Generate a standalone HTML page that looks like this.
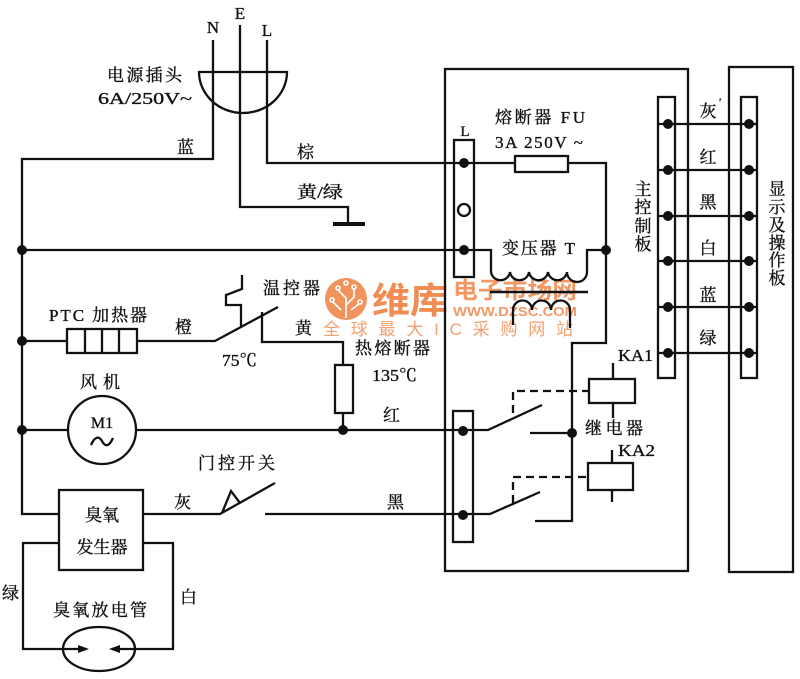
<!DOCTYPE html>
<html><head><meta charset="utf-8"><style>
html,body{margin:0;padding:0;background:#fff;}
svg{display:block;}
.t{font-family:"Liberation Serif","Noto Serif CJK SC",serif;font-size:17px;fill:#111;stroke:#111;stroke-width:0.35;}
.l{font-family:"Liberation Serif",serif;font-size:17px;fill:#111;}
</style></head><body>
<svg width="800" height="679" viewBox="0 0 800 679" xmlns="http://www.w3.org/2000/svg">
<rect width="800" height="679" fill="#fff"/>
<!-- watermark -->
<g>
<circle cx="346" cy="299" r="21" fill="#f0935c"/>
<g stroke="#fff" stroke-width="1.6" fill="none">
<path d="M346,318 V298 L338,290 M346,305 L354,297 V289 M341,310 L333,302 M351,310 L359,304"/>
<circle cx="338" cy="288" r="2"/><circle cx="354" cy="287" r="2"/><circle cx="332" cy="300" r="2"/><circle cx="360" cy="302" r="2"/><circle cx="346" cy="283" r="2"/>
</g>
<text x="372" y="313" textLength="76" lengthAdjust="spacingAndGlyphs" style="font-family:'Noto Sans CJK SC',sans-serif;font-weight:bold;font-size:36px;fill:#f08d55;">维库</text>
<text x="453" y="298" textLength="124" lengthAdjust="spacingAndGlyphs" style="font-family:'Noto Sans CJK SC',sans-serif;font-weight:bold;font-size:23px;fill:#f08d55;opacity:0.9">电子市场网</text>
<text x="453" y="316" textLength="124" lengthAdjust="spacingAndGlyphs" style="font-family:'Liberation Sans',sans-serif;font-weight:bold;font-size:13px;fill:#f08d55;opacity:0.9">WWW.DZSC.COM</text>
<text x="323" y="335" textLength="250" lengthAdjust="spacing" style="font-family:'Liberation Sans','Noto Sans CJK SC',sans-serif;font-size:17px;fill:#f2a070;">全球最大IC采购网站</text>
</g>

<g stroke="#111" stroke-width="2.3" fill="none" stroke-linejoin="miter">
<!-- plug -->
<path d="M199,72 H287 A44,41 0 0 1 199,72 Z"/>
<path d="M213,40 V159 H22 V514 H59"/>
<path d="M240,25 V207 H348 V224"/>
<path d="M333,224 H365" stroke-width="4"/>
<path d="M267,40 V163 H515"/>
<!-- bus -->
<path d="M22,250 H491 V272"/>
<!-- PTC -->
<path d="M22,341 H67"/>
<rect x="67" y="329" width="70" height="24"/>
<path d="M85,329 V353 M102,329 V353 M119,329 V353"/>
<path d="M137,341 H215 L278,307"/>
<path d="M242,275 V289 L226,295 V305 H241 V327"/>
<path d="M262,312 V342 H343 V365"/>
<rect x="335" y="365" width="18" height="48"/>
<path d="M343,413 V430"/>
<!-- fan -->
<path d="M22,430 H68"/>
<circle cx="102" cy="430" r="34"/>
<path d="M136,430 H463 H488 L542,405"/>
<path d="M91,445 C95,436 99,436 102,441 C105,447 109,447 113,438"/>
<!-- ozone -->
<rect x="59" y="490" width="84" height="80"/>
<path d="M143,514 H220 L275,483"/>
<path d="M222,513 L231,491 L240,503"/>
<path d="M265,514 H463 H490 L540,492"/>
<path d="M59,543 H23 V649 H63"/>
<path d="M143,543 H173 V649 H135"/>
<ellipse cx="99" cy="649" rx="36" ry="22"/>
<path d="M63,649 H86 M135,649 H112"/>
<!-- main box -->
<rect x="445" y="69" width="243" height="502"/>
<rect x="729" y="67" width="64" height="505"/>
<!-- L strip -->
<rect x="454" y="140" width="20" height="137"/>
<rect x="515" y="156" width="53" height="16"/>
<path d="M568,163 H606 V343 H572 V521 H535"/>
<path d="M491,272 A9.6,9.6 0 0 0 510,272 A9.6,9.6 0 0 0 529,272 A9.6,9.6 0 0 0 548,272 A9.6,9.6 0 0 0 567,272 A10,10 0 0 0 587,272 V250 H606"/>
<path d="M490,292 H588" stroke-width="2.6"/>
<path d="M513,325 V310 A9.5,9.5 0 0 1 532,310 A9.5,9.5 0 0 1 551,310 A9.5,9.5 0 0 1 570,310 V328"/>
<!-- relay strip -->
<rect x="453" y="411" width="20" height="131"/>
<path d="M530,433 H572"/>
<path d="M513,413 V391 H589" stroke-dasharray="8,5"/>
<rect x="589" y="379" width="46" height="24"/>
<path d="M613,363 V379 M613,403 V418"/>
<path d="M513,503 V477 H588" stroke-dasharray="8,5"/>
<rect x="588" y="463" width="45" height="27"/>
<path d="M612,450 V463 M612,490 V502"/>
<!-- connectors -->
<rect x="658" y="97" width="17" height="281"/>
<rect x="741" y="97" width="16" height="281"/>
<path d="M658,124 H757 M658,170 H757 M658,216 H757 M658,261 H757 M658,307 H757 M658,353 H757"/>
<circle cx="464" cy="210" r="6"/>
</g>

<g fill="#111">
<circle cx="22" cy="250" r="5"/><circle cx="22" cy="341" r="5"/><circle cx="22" cy="430" r="5"/>
<circle cx="343" cy="430" r="5"/>
<circle cx="464" cy="163" r="5"/><circle cx="464" cy="250" r="5"/><circle cx="606" cy="250" r="5"/>
<circle cx="463" cy="431" r="5"/><circle cx="463" cy="515" r="5"/><circle cx="572" cy="433" r="5"/>
<circle cx="668" cy="124" r="5"/><circle cx="668" cy="170" r="5"/><circle cx="668" cy="216" r="5"/><circle cx="668" cy="261" r="5"/><circle cx="668" cy="307" r="5"/><circle cx="668" cy="353" r="5"/>
<circle cx="749" cy="124" r="5"/><circle cx="749" cy="170" r="5"/><circle cx="749" cy="216" r="5"/><circle cx="749" cy="261" r="5"/><circle cx="749" cy="307" r="5"/><circle cx="749" cy="353" r="5"/>
<path d="M78,645 L89,649 L78,653 Z M120,645 L109,649 L120,653 Z"/>
</g>

<!-- labels -->
<g class="t">
<text x="213" y="33" text-anchor="middle" class="l">N</text>
<text x="240" y="19" text-anchor="middle" class="l">E</text>
<text x="267" y="36" text-anchor="middle" class="l">L</text>
<text x="107" y="81" textLength="75" lengthAdjust="spacing">电源插头</text>
<text x="98" y="104" textLength="94" lengthAdjust="spacingAndGlyphs" class="l">6A/250V~</text>
<text x="177" y="153">蓝</text>
<text x="297" y="158">棕</text>
<text x="297" y="198" textLength="46" lengthAdjust="spacingAndGlyphs">黄/绿</text>
<text x="495" y="123" textLength="90" lengthAdjust="spacing">熔断器 FU</text>
<text x="495" y="148" textLength="88" lengthAdjust="spacing">3A 250V ~</text>
<text x="465" y="136" text-anchor="middle" class="l" style="font-size:15px">L</text>
<text x="502" y="254" textLength="73" lengthAdjust="spacing">变压器 T</text>
<text x="618" y="361" textLength="35" lengthAdjust="spacingAndGlyphs" class="l">KA1</text>
<text x="585" y="434" textLength="58" lengthAdjust="spacing">继电器</text>
<text x="618" y="456" textLength="37" lengthAdjust="spacingAndGlyphs" class="l">KA2</text>
<text x="49" y="321" textLength="98" lengthAdjust="spacing">PTC 加热器</text>
<text x="175" y="333">橙</text>
<text x="263" y="294" textLength="57" lengthAdjust="spacing">温控器</text>
<text x="295" y="334">黄</text>
<text x="222" y="366" textLength="35" lengthAdjust="spacingAndGlyphs">75℃</text>
<text x="355" y="354" textLength="75" lengthAdjust="spacing">热熔断器</text>
<text x="372" y="381" textLength="45" lengthAdjust="spacingAndGlyphs">135℃</text>
<text x="383" y="421">红</text>
<text x="80" y="388" textLength="40" lengthAdjust="spacing">风机</text>
<text x="102" y="428" text-anchor="middle" class="l" style="font-size:16px">M1</text>
<text x="198" y="469" textLength="77" lengthAdjust="spacing">门控开关</text>
<text x="174" y="508">灰</text>
<text x="387" y="508">黑</text>
<text x="102" y="521" text-anchor="middle">臭氧</text>
<text x="102" y="553" text-anchor="middle">发生器</text>
<text x="2" y="599">绿</text>
<text x="180" y="603">白</text>
<text x="53" y="616" textLength="94" lengthAdjust="spacing">臭氧放电管</text>
<text x="708" y="117" text-anchor="middle">灰</text>
<text x="719" y="106" class="l" style="font-size:12px">′</text>
<text x="708" y="163" text-anchor="middle">红</text>
<text x="708" y="208" text-anchor="middle">黑</text>
<text x="708" y="254" text-anchor="middle">白</text>
<text x="708" y="301" text-anchor="middle">蓝</text>
<text x="708" y="344" text-anchor="middle">绿</text>
<text x="643" y="195" text-anchor="middle">主</text>
<text x="643" y="213" text-anchor="middle">控</text>
<text x="643" y="232" text-anchor="middle">制</text>
<text x="643" y="250" text-anchor="middle">板</text>
<text x="777" y="195" text-anchor="middle">显</text>
<text x="777" y="213" text-anchor="middle">示</text>
<text x="777" y="231" text-anchor="middle">及</text>
<text x="777" y="249" text-anchor="middle">操</text>
<text x="777" y="266" text-anchor="middle">作</text>
<text x="777" y="284" text-anchor="middle">板</text>
</g>
</svg>
</body></html>
